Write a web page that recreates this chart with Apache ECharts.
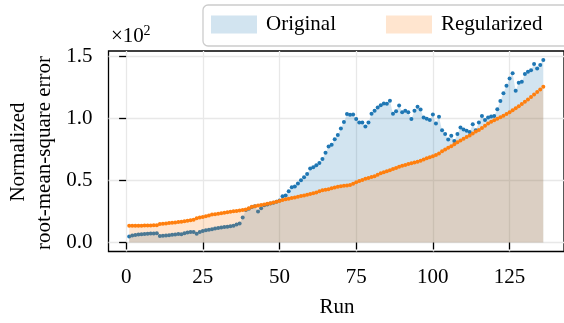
<!DOCTYPE html>
<html>
<head>
<meta charset="utf-8">
<script src="https://cdn.jsdelivr.net/npm/echarts@6/dist/echarts.min.js"></script>
<style>
html,body{margin:0;padding:0;background:#fff;}
#chart{width:564px;height:323px;}
</style>
</head>
<body>
<div id="chart"></div>
<script>
const runs = Array.from({length: 136}, (_, i) => i + 1);

const original = [
  0.047, 0.055, 0.060, 0.063, 0.066, 0.068, 0.070, 0.071, 0.072, 0.073,
  0.052, 0.054, 0.056, 0.058, 0.061, 0.064, 0.068, 0.066, 0.074, 0.080,
  0.083, 0.084, 0.070, 0.083, 0.092, 0.098, 0.103, 0.106, 0.112, 0.116,
  0.120, 0.124, 0.127, 0.130, 0.135, 0.145, 0.152, 0.200, 0.262, 0.272,
  0.285, 0.292, 0.250, 0.275, 0.300, 0.305, 0.313, 0.320, 0.328, 0.338,
  0.372, 0.378, 0.412, 0.445, 0.450, 0.475, 0.500, 0.525, 0.550, 0.595,
  0.605, 0.622, 0.640, 0.672, 0.722, 0.772, 0.786, 0.830, 0.864, 0.918,
  0.970, 1.033, 1.028, 1.030, 0.993, 0.966, 0.966, 0.934, 0.966, 1.036,
  1.060, 1.087, 1.105, 1.119, 1.116, 1.140, 1.036, 1.055, 1.103, 1.047,
  1.060, 1.047, 0.993, 1.060, 1.092, 1.071, 1.006, 0.995, 0.985, 1.030,
  0.958, 1.011, 0.904, 0.872, 0.829, 0.858, 0.816, 0.872, 0.926, 0.910,
  0.899, 0.888, 0.952, 0.904, 0.966, 1.017, 0.985, 1.006, 1.014, 1.017,
  1.073, 1.138, 1.200, 1.261, 1.320, 1.361, 1.221, 1.285, 1.293, 1.355,
  1.374, 1.387, 1.436, 1.401, 1.428, 1.468
];

const regularized = [
  0.134, 0.134, 0.135, 0.135, 0.135, 0.136, 0.136, 0.137, 0.138, 0.139,
  0.148, 0.151, 0.153, 0.156, 0.158, 0.161, 0.164, 0.167, 0.171, 0.175,
  0.178, 0.182, 0.195, 0.200, 0.204, 0.210, 0.216, 0.224, 0.227, 0.231,
  0.235, 0.239, 0.243, 0.247, 0.251, 0.254, 0.258, 0.262, 0.265, 0.275,
  0.288, 0.292, 0.297, 0.302, 0.306, 0.311, 0.316, 0.321, 0.327, 0.333,
  0.341, 0.347, 0.352, 0.357, 0.362, 0.367, 0.373, 0.378, 0.383, 0.389,
  0.395, 0.401, 0.412, 0.420, 0.425, 0.429, 0.436, 0.442, 0.448, 0.452,
  0.456, 0.459, 0.463, 0.472, 0.484, 0.494, 0.503, 0.512, 0.519, 0.526,
  0.533, 0.545, 0.556, 0.565, 0.573, 0.582, 0.591, 0.600, 0.609, 0.617,
  0.624, 0.632, 0.638, 0.643, 0.649, 0.658, 0.668, 0.677, 0.686, 0.694,
  0.703, 0.716, 0.733, 0.748, 0.762, 0.775, 0.790, 0.806, 0.820, 0.834,
  0.848, 0.861, 0.876, 0.892, 0.906, 0.922, 0.940, 0.957, 0.971, 0.983,
  0.996, 1.008, 1.020, 1.033, 1.048, 1.064, 1.080, 1.097, 1.115, 1.133,
  1.151, 1.170, 1.190, 1.210, 1.231, 1.253
];

const xTicks = [0, 25, 50, 75, 100, 125];
const yTicks = [0, 0.5, 1.0, 1.5];
const yTickLabels = ['0.0', '0.5', '1.0', '1.5'];
const seriesNames = ['Original', 'Regularized'];

const FONT = "'Liberation Serif', 'DejaVu Serif', serif";
const FS = 21;
const chart = echarts.init(document.getElementById('chart'), null, {renderer: 'canvas'});

function pairs(vals) { return runs.map((r, i) => [r, vals[i]]); }

const option = {
  animation: false,
  backgroundColor: '#ffffff',
  grid: {
    left: 108.5, top: 51, width: 458, height: 200.5,
    show: true, borderColor: '#000', borderWidth: 1.3, backgroundColor: 'transparent'
  },
  legend: {
    orient: 'horizontal',
    left: 203, top: 5, width: 600,
    padding: [9, 70, 11, 8],
    backgroundColor: '#ffffff',
    borderColor: '#cccccc', borderWidth: 1.3, borderRadius: 5,
    icon: 'rect', itemWidth: 46, itemHeight: 18, itemGap: 50,
    textStyle: {fontFamily: FONT, fontSize: FS, color: '#000', padding: [0, 0, 0, 4]},
    data: [
      {name: seriesNames[0], itemStyle: {color: '#d2e4f0', borderWidth: 0}},
      {name: seriesNames[1], itemStyle: {color: '#ffe5cf', borderWidth: 0}}
    ]
  },
  xAxis: {
    type: 'value', min: -5.75, max: 142.75,
    axisLine: {show: false},
    axisTick: {show: true, length: 7, customValues: xTicks, lineStyle: {color: '#000', width: 1.3}},
    axisLabel: {customValues: xTicks, fontFamily: FONT, fontSize: FS, color: '#000', margin: 15},
    splitLine: {show: true, lineStyle: {color: '#e8e8e8', width: 1.3}}
  },
  yAxis: {
    type: 'value', min: -0.073, max: 1.541,
    axisLine: {show: false},
    axisTick: {show: true, length: 7, customValues: yTicks, lineStyle: {color: '#000', width: 1.3}},
    axisLabel: {
      customValues: yTicks, fontFamily: FONT, fontSize: FS, color: '#000', margin: 16,
      formatter: v => { const i = yTicks.findIndex(t => Math.abs(t - v) < 1e-6); return i >= 0 ? yTickLabels[i] : ''; }
    },
    splitLine: {show: true, lineStyle: {color: '#e8e8e8', width: 1.3}}
  },
  series: [
    {
      name: seriesNames[0], type: 'line', data: pairs(original),
      showSymbol: true, showAllSymbol: true, symbol: 'circle', symbolSize: 4,
      itemStyle: {color: '#1f77b4'},
      lineStyle: {width: 0, opacity: 0},
      areaStyle: {color: '#1f77b4', opacity: 0.2, origin: 0},
      z: 2
    },
    {
      name: seriesNames[1], type: 'line', data: pairs(regularized),
      showSymbol: true, showAllSymbol: true, symbol: 'circle', symbolSize: 4,
      itemStyle: {color: '#ff7f0e'},
      lineStyle: {width: 0, opacity: 0},
      areaStyle: {color: '#ff7f0e', opacity: 0.2, origin: 0},
      z: 3
    }
  ],
  graphic: [
    {type: 'text', x: 18, y: 152, rotation: Math.PI / 2,
     style: {text: 'Normalized', fontFamily: FONT, fontSize: FS, fill: '#000', align: 'center', verticalAlign: 'middle'}},
    {type: 'text', x: 44, y: 153, rotation: Math.PI / 2,
     style: {text: 'root-mean-square error', fontFamily: FONT, fontSize: FS, fill: '#000', align: 'center', verticalAlign: 'middle'}},
    {type: 'text', x: 337, y: 307,
     style: {text: 'Run', fontFamily: FONT, fontSize: FS, fill: '#000', align: 'center', verticalAlign: 'middle'}},
    {type: 'text', x: 111, y: 36.5,
     style: {text: '×10', fontFamily: FONT, fontSize: FS, fill: '#000', align: 'left', verticalAlign: 'middle'}},
    {type: 'text', x: 143.5, y: 31.5,
     style: {text: '2', fontFamily: FONT, fontSize: 14, fill: '#000', align: 'left', verticalAlign: 'middle'}}
  ]
};
chart.setOption(option);
</script>
</body>
</html>
